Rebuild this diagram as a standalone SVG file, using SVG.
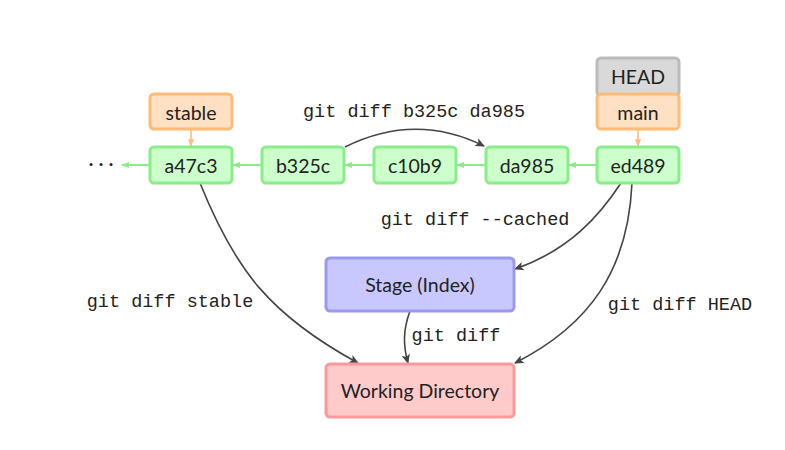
<svg xmlns="http://www.w3.org/2000/svg" width="785" height="450" viewBox="0 0 785 450">
<style>
.node text{font-family:"Lato","DejaVu Sans",sans-serif;font-size:19.5px;fill:#222;text-anchor:middle;dominant-baseline:central}
.commit rect{fill:#ccffcc;stroke:#88ee88;stroke-width:3}
.branch rect{fill:#ffe0c2;stroke:#ffbb77;stroke-width:3}
.head rect{fill:#d9d9d9;stroke:#bbbbbb;stroke-width:3}
.stage rect{fill:#c8c8ff;stroke:#9999ee;stroke-width:3}
.wd rect{fill:#ffcaca;stroke:#ff9999;stroke-width:3}
.lbl{font-family:"Liberation Mono","DejaVu Sans Mono",monospace;font-size:18.5px;fill:#222;text-anchor:middle;dominant-baseline:central}
.g{stroke:#88ee88;stroke-width:2;fill:none;marker-end:url(#ag)}
.o{stroke:#ffbb77;stroke-width:1.5;fill:none;marker-end:url(#ao)}
.d{stroke:#444;stroke-width:1.6;fill:none;marker-end:url(#ad)}
</style>
<defs>
<marker id="ag" viewBox="0 0 10 10" refX="9" refY="5" markerWidth="4" markerHeight="4" orient="auto" markerUnits="strokeWidth"><path d="M0,1 L10,5 L0,9 z" fill="#88ee88"/></marker>
<marker id="ao" viewBox="0 0 10 10" refX="9" refY="5" markerWidth="5" markerHeight="5" orient="auto" markerUnits="strokeWidth"><path d="M0,1 L10,5 L0,9 z" fill="#ffbb77"/></marker>
<marker id="ad" viewBox="0 0 10 10" refX="9" refY="5" markerWidth="6" markerHeight="6" orient="auto" markerUnits="strokeWidth"><path d="M0,0.5 L10,5 L0,9.5 L2.5,5 z" fill="#444"/></marker>
</defs>
<g id="connectors">
<path class="g" d="M262 165 L233 165"/>
<path class="g" d="M374 165 L345 165"/>
<path class="g" d="M486 165 L457 165"/>
<path class="g" d="M597 165 L569 165"/>
<path class="g" d="M150 165 L122 165"/>
<path class="o" d="M191 129 L191 146"/>
<path class="o" d="M638 129 L638 146"/>
<path class="d" d="M345 147 Q415 112 484 146"/>
<path class="d" d="M621 183 C600 215 570 250 515 269"/>
<path class="d" d="M632 183 C628 270 590 325 515 363"/>
<path class="d" d="M200 183 C235 270 270 315 358 363"/>
<path class="d" d="M410 311 C403 330 403 345 408 363"/>
<text class="lbl" x="414" y="112">git diff b325c da985</text>
<text class="lbl" x="475" y="220">git diff --cached</text>
<text class="lbl" x="680" y="305">git diff HEAD</text>
<text class="lbl" x="170" y="302">git diff stable</text>
<text class="lbl" x="456" y="336">git diff</text>
</g>
<g id="dots" class="node"><text x="101" y="162">· · ·</text></g>
<g id="a47c3" class="node commit"><rect x="150" y="147" width="82" height="36" rx="4"/><text x="191" y="165">a47c3</text></g>
<g id="b325c" class="node commit"><rect x="262" y="147" width="82" height="36" rx="4"/><text x="303" y="165">b325c</text></g>
<g id="c10b9" class="node commit"><rect x="374" y="147" width="82" height="36" rx="4"/><text x="415" y="165">c10b9</text></g>
<g id="da985" class="node commit"><rect x="486" y="147" width="82" height="36" rx="4"/><text x="527" y="165">da985</text></g>
<g id="ed489" class="node commit"><rect x="597" y="147" width="82" height="36" rx="4"/><text x="638" y="165">ed489</text></g>
<g id="stable" class="node branch"><rect x="150" y="94" width="82" height="35" rx="4"/><text x="191" y="112">stable</text></g>
<g id="HEAD" class="node head"><rect x="597" y="58" width="82" height="38" rx="4"/><text x="638" y="76">HEAD</text></g>
<g id="main" class="node branch"><rect x="597" y="94" width="82" height="35" rx="4"/><text x="638" y="112">main</text></g>
<g id="stage" class="node stage"><rect x="326" y="258" width="188" height="53" rx="4"/><text x="420" y="284">Stage (Index)</text></g>
<g id="wd" class="node wd"><rect x="326" y="364" width="188" height="53" rx="4"/><text x="420" y="390">Working Directory</text></g>
</svg>
